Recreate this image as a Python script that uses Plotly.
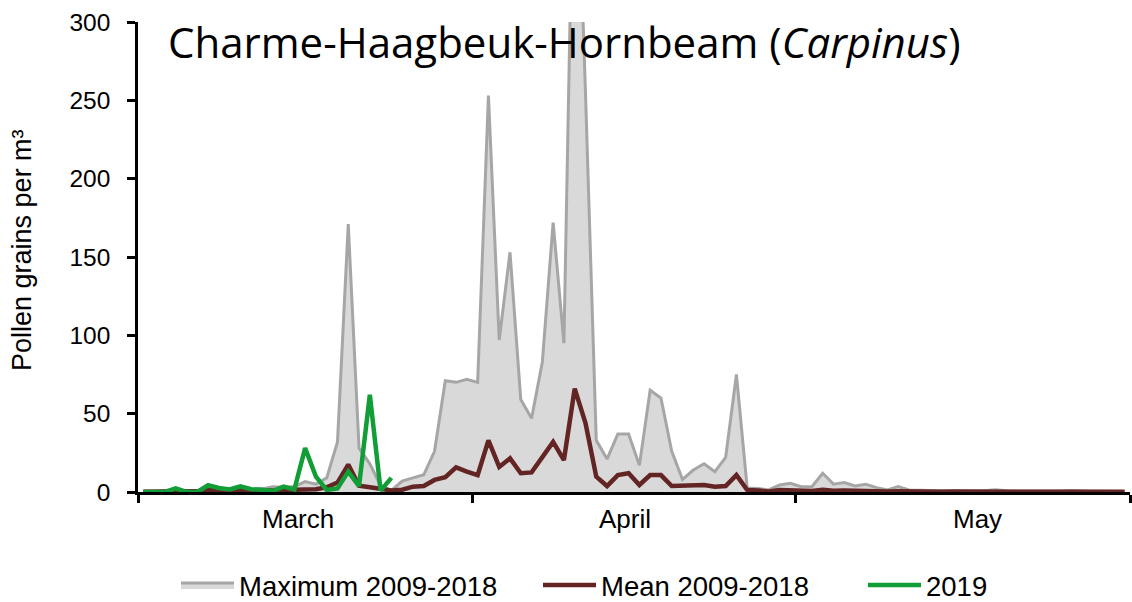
import plotly.graph_objects as go
import pandas as pd

days = pd.date_range("2019-03-01", "2019-05-31", freq="D")
x_idx = list(range(len(days)))

max_2009_2018 = [0.5, 0.5, 1, 1.5, 0.5, 1, 2, 1.5, 1, 2.5,
                 1.5, 2, 3.4, 3, 3.5, 6.6, 5, 9, 32, 171,
                 28, 18, 4, 1, 7, 9, 11, 26, 71, 70,
                 72, 70, 253, 97, 153, 59, 47, 83, 172, 95,
                 460, 255, 33, 21, 37, 37, 17, 65, 60, 26,
                 8, 14, 18, 13, 22, 75, 2.5, 2.3, 1.3, 4.5,
                 5.5, 3.4, 3.4, 12, 5, 6, 3.8, 4.9, 2.8, 1.3,
                 3.4, 1.3, 1, 0.8, 0.8, 0.6, 0.8, 0.6, 0.8, 1.5,
                 0.8, 0.6, 0.6, 0.5, 0.5, 0.6, 1, 0.6, 0.5, 0.5,
                 0.4, 0.3]

mean_2009_2018 = [0.2, 0.2, 0.3, 0.5, 0.3, 0.4, 1.2, 0.8, 0.6, 1,
                  0.8, 0.7, 1, 1.2, 1.3, 2, 1.8, 3, 6, 17.5,
                  4, 3, 2, 1, 1.5, 3.4, 3.8, 7.7, 9.4, 15.7,
                  13, 10.8, 33, 16, 21.5, 12, 12.5, 22.5, 32, 20.4,
                  66, 44, 9.8, 3.8, 10.8, 12, 4.5, 10.8, 10.8, 3.8,
                  3.8, 4.5, 4.5, 3.4, 3.8, 10.8, 1.3, 0.9, 0.3, 1.3,
                  1.3, 0.9, 0.6, 1.5, 0.8, 0.9, 0.6, 0.7, 0.5, 0.3,
                  0.5, 0.3, 0.2, 0.2, 0.2, 0.3, 0.2, 0.2, 0.2, 0.3,
                  0.2, 0.2, 0.2, 0.2, 0.2, 0.2, 0.3, 0.2, 0.2, 0.2,
                  0.2, 0.2]

y2019 = [0, 0, 0, 2.3, 0, 0, 4.3, 2.6, 1.6, 3.6,
         1.8, 1.5, 0.6, 3.4, 1.6, 28, 9.8, 1.3, 2.3, 13,
         3.8, 62, 0.9, 9]

month_labels = ["March", "April", "May"]
month_label_pos = [14.3, 44.7, 77.4]
month_bounds = [-0.5, 30.5, 60.5, 91.5]
y_ticks = [0, 50, 100, 150, 200, 250, 300]

AX_FONT = "Liberation Sans, Arial, sans-serif"
PLOT_L, PLOT_W, PLOT_T, PLOT_H = 138, 992, 22, 470


def px_x(p):
    return (p - PLOT_L) / PLOT_W


def px_y(p):
    return 1 - (p - PLOT_T) / PLOT_H


fig = go.Figure()
fig.add_trace(go.Scatter(
    x=x_idx, y=max_2009_2018, name="Maximum 2009-2018",
    mode="lines", fill="tozeroy", fillcolor="#d9d9d9",
    line=dict(color="#a6a6a6", width=3), legend="legend",
))
fig.add_trace(go.Scatter(
    x=x_idx, y=mean_2009_2018, name="Mean 2009-2018",
    mode="lines", line=dict(color="#632523", width=4.5), legend="legend2",
))
fig.add_trace(go.Scatter(
    x=x_idx[:len(y2019)], y=y2019, name="2019",
    mode="lines", line=dict(color="#119e37", width=4.5), legend="legend3",
))

leg_font = dict(family="Liberation Sans Narrow, Liberation Sans, Arial", size=27.5, color="black")


def leg(xpix):
    return dict(orientation="h", x=px_x(xpix), xanchor="left", y=px_y(585), yanchor="middle",
                font=leg_font, itemwidth=53, bgcolor="rgba(0,0,0,0)")


fig.update_layout(
    width=1132, height=602,
    margin=dict(l=PLOT_L, r=2, t=PLOT_T, b=110, autoexpand=False),
    plot_bgcolor="white", paper_bgcolor="white",
    showlegend=True,
    legend=leg(176), legend2=leg(538), legend3=leg(863),
    xaxis=dict(
        range=[-0.5, 91.5], showgrid=False, zeroline=False, automargin=False,
        showline=True, linecolor="black", linewidth=2.5,
        tickmode="array", tickvals=month_bounds, ticktext=["", "", "", ""],
        ticks="outside", ticklen=8, tickwidth=2.5, tickcolor="black",
    ),
    yaxis=dict(
        range=[0, 300], showgrid=False, zeroline=False, automargin=False,
        showline=True, linecolor="black", linewidth=2.5,
        tickmode="array", tickvals=y_ticks,
        ticks="outside", ticklen=8, tickwidth=2.5, tickcolor="black",
        ticklabelstandoff=12,
        tickfont=dict(family=AX_FONT, size=24.5, color="black"),
    ),
)

fig.add_annotation(
    x=px_x(22), y=px_y(250), xref="paper", yref="paper",
    xanchor="center", yanchor="middle", textangle=-90, showarrow=False,
    text="Pollen grains per m³", font=dict(family=AX_FONT, size=27, color="black"),
)

for lbl, pos in zip(month_labels, month_label_pos):
    fig.add_annotation(x=pos, y=px_y(519), xref="x", yref="paper", text=lbl,
                       showarrow=False, yanchor="middle",
                       font=dict(family=AX_FONT, size=26, color="black"))

fig.add_annotation(
    x=px_x(166), y=px_y(42), xref="paper", yref="paper",
    xanchor="left", yanchor="middle", showarrow=False,
    text="Charme-Haagbeuk-Hornbeam (<i>Carpinus</i>)",
    font=dict(family="Open Sans, sans-serif", size=42, color="black"),
)

fig.write_html(
    "out.html",
    config={"displayModeBar": False},
    post_script="document.body.style.margin='0';document.body.style.overflow='hidden';",
)
